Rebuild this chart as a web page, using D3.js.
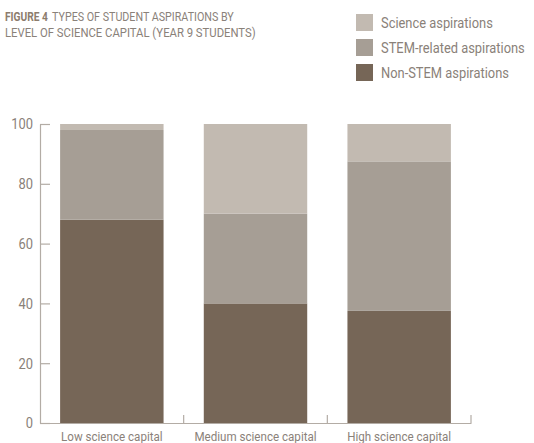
<!DOCTYPE html>
<html>
<head>
<meta charset="utf-8">
<script src="https://cdn.jsdelivr.net/npm/d3@7"></script>
<style>
  body { margin: 0; background: #fff; }
  svg text { font-family: "Liberation Sans Narrow", "Roboto", sans-serif; fill: #8a8179; }
</style>
</head>
<body>
<div id="chart"></div>
<script>
// data
var categories = ["Low science capital", "Medium science capital", "High science capital"];
var seriesNames = ["Non-STEM aspirations", "STEM-related aspirations", "Science aspirations"];
var nonStem = [68, 40, 37.5];
var stemRelated = [30, 30, 50];
var science = [2, 30, 12.5];
var yTicks = [0, 20, 40, 60, 80, 100];

var colors = ["#766657", "#a69e95", "#c2bab1"];

var width = 534, height = 443;
var mLeft = 40, mRight = 471, mTop = 124, mBottom = 423;
var squeeze = 0.86; // condensed look

var svg = d3.select("#chart").append("svg")
    .attr("width", width)
    .attr("height", height);

// squeeze text horizontally around its anchor point
function narrow(sel, factor) {
    sel.each(function () {
        var s = factor;
        if (typeof factor === "number" && factor > 2) s = factor / this.getComputedTextLength();
        var x0 = +(this.getAttribute("x") || 0);
        d3.select(this).attr("transform",
            "translate(" + x0 + ",0) scale(" + s + ",1) translate(" + (-x0) + ",0)");
    });
}

// title, widths fitted to the reference
narrow(svg.append("text").attr("x", 5).attr("y", 21).style("font-size", "12.5px")
    .attr("font-weight", "bold").style("fill", "#8c7c6c")
    .text("FIGURE 4"), 43);
narrow(svg.append("text").attr("x", 52).attr("y", 21).style("font-size", "12.5px")
    .text("TYPES OF STUDENT ASPIRATIONS BY"), 182);
narrow(svg.append("text").attr("x", 5).attr("y", 37).style("font-size", "12.5px")
    .text("LEVEL OF SCIENCE CAPITAL (YEAR 9 STUDENTS)"), 251);

// legend (top to bottom: science, stem, non-stem)
var legendOrder = [2, 1, 0];
var lg = svg.append("g").selectAll("g")
    .data(legendOrder)
    .enter().append("g")
    .attr("transform", function (d, i) { return "translate(356," + (14 + i * 25) + ")"; });
lg.append("rect").attr("width", 17).attr("height", 17).attr("fill", function (d) { return colors[d]; });
narrow(lg.append("text").attr("x", 25).attr("y", 14).style("font-size", "15px")
    .text(function (d) { return seriesNames[d]; }), squeeze);

// scales
var x = d3.scaleBand().domain(categories).range([mLeft, mRight]).paddingInner(0.28).paddingOuter(0.14);
var y = d3.scaleLinear().domain([0, 100]).range([mBottom, mTop]);

var table = categories.map(function (c, i) {
    return { cat: c, s0: nonStem[i], s1: stemRelated[i], s2: science[i] };
});
var stack = d3.stack().keys(["s0", "s1", "s2"]);
var layers = stack(table);

svg.append("g").selectAll("g")
    .data(layers)
    .enter().append("g")
    .attr("fill", function (d, i) { return colors[i]; })
    .selectAll("rect")
    .data(function (d) { return d; })
    .enter().append("rect")
    .attr("x", function (d) { return x(d.data.cat); })
    .attr("width", x.bandwidth())
    .attr("y", function (d) { return y(d[1]); })
    .attr("height", function (d) { return y(d[0]) - y(d[1]); });

// y axis
var yAxis = svg.append("g")
    .attr("transform", "translate(" + mLeft + ",0)")
    .call(d3.axisRight(y).tickValues(yTicks).tickSize(10).tickSizeOuter(0).tickFormat(d3.format("d")));
yAxis.select(".domain").attr("stroke", "#b3aca5").attr("stroke-width", 1.2);
yAxis.selectAll(".tick line").attr("stroke", "#b3aca5").attr("stroke-width", 1.2);
yAxis.selectAll(".tick text").attr("x", -7).attr("text-anchor", "end").style("font-size", "15px");
narrow(yAxis.selectAll(".tick text"), squeeze);

// x axis
var xAxis = svg.append("g")
    .attr("transform", "translate(0," + mBottom + ")")
    .call(d3.axisBottom(x).tickSize(0).tickSizeOuter(0));
xAxis.select(".domain").attr("stroke", "#b3aca5").attr("stroke-width", 1.2);
xAxis.selectAll(".tick text").attr("y", 8).attr("dy", "0.71em").style("font-size", "13.5px");
narrow(xAxis.selectAll(".tick text"), squeeze);

// separators between categories
var step = x.step();
var seps = categories.map(function (c) { return x(c) + x.bandwidth() + step * 0.14; });
svg.append("g").selectAll("line")
    .data(seps)
    .enter().append("line")
    .attr("x1", function (d) { return d; }).attr("x2", function (d) { return d; })
    .attr("y1", mBottom).attr("y2", mBottom - 8)
    .attr("stroke", "#b3aca5").attr("stroke-width", 1.2);
</script>
</body>
</html>
